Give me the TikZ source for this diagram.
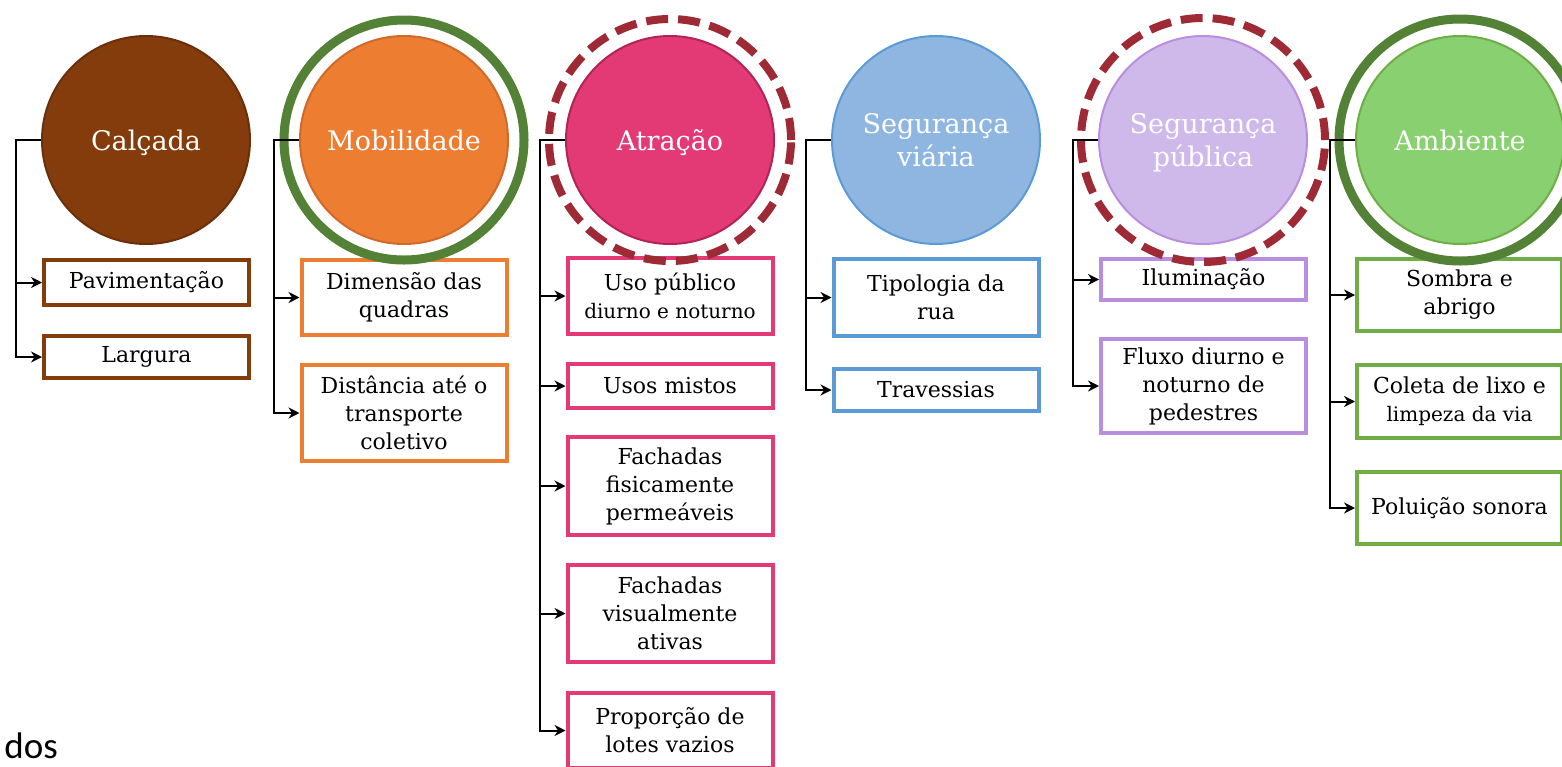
\documentclass[tikz,border=0pt]{standalone}
\usepackage{fontspec}
\setmainfont{DejaVu Serif}
\newfontfamily\dosfont{Carlito}
\usetikzlibrary{arrows.meta}
\definecolor{calcfill}{HTML}{843C0C}
\definecolor{calcline}{HTML}{6A300C}
\definecolor{mobfill}{HTML}{ED7D31}
\definecolor{mobline}{HTML}{D0692A}
\definecolor{atrfill}{HTML}{E33A75}
\definecolor{atrline}{HTML}{B02556}
\definecolor{segvfill}{HTML}{8EB6E0}
\definecolor{segvline}{HTML}{5B9BD5}
\definecolor{segpfill}{HTML}{CFB9EA}
\definecolor{segpline}{HTML}{B98EDE}
\definecolor{ambfill}{HTML}{88D070}
\definecolor{ambline}{HTML}{70AD47}
\definecolor{ringgreen}{HTML}{538135}
\definecolor{ringred}{HTML}{9E2A36}
\begin{document}
\begin{tikzpicture}[x=0.5pt,y=-0.5pt,>={Stealth[length=5.5pt,width=5.5pt]},
topic/.style 2 args={circle,fill=#1,draw=#2,line width=1pt,minimum size=104pt,inner sep=0pt,align=center,text=white,text depth=0pt,font=\fontsize{13.5}{16.5}\selectfont},
item/.style={draw=#1,line width=2pt,fill=white,minimum width=102.5pt,inner sep=1pt,align=center,font=\fontsize{11}{14}\selectfont},
greenring/.style={draw=ringgreen,line width=4.5pt},
redring/.style={draw=ringred,line width=4pt,dash pattern=on 11pt off 5pt},
link/.style={line width=1pt}]
\useasboundingbox (0,0) rectangle (1562,766);
\clip (0,0) rectangle (1562,766);
% temas
\draw (146,140) node[topic={calcfill}{calcline}] (calc) {Calçada};
\draw (404,140) node[topic={mobfill}{mobline}] (mob) {Mobilidade};
\draw (670,140) node[topic={atrfill}{atrline}] (atr) {Atração};
\draw (936,140) node[topic={segvfill}{segvline}] (segv) {Segurança\\viária};
\draw (1203,140) node[topic={segpfill}{segpline}] (segp) {Segurança\\pública};
\draw (1460,140) node[topic={ambfill}{ambline}] (amb) {Ambiente};
% indicadores
\draw (146.5,282.5) node[item=calcfill,minimum height=22.5pt] (pav) {Pavimentação};
\draw (146.5,357) node[item=calcfill,minimum height=21pt] (larg) {Largura};
\draw (404,297.5) node[item=mobfill,minimum height=37.5pt] (quad) {Dimensão das\\quadras};
\draw (404,413) node[item=mobfill,minimum height=48pt] (dist) {Distância até o\\transporte\\coletivo};
\draw (670,296) node[item=atrfill,minimum height=38pt] (uso) {Uso público\\{\fontsize{10}{12}\selectfont diurno e noturno}};
\draw (670,386) node[item=atrfill,minimum height=22pt] (mist) {Usos mistos};
\draw (670,486) node[item=atrfill,minimum height=49pt] (fis) {Fachadas\\fisicamente\\permeáveis};
\draw (670,613.5) node[item=atrfill,minimum height=48.5pt] (vis) {Fachadas\\visualmente\\ativas};
\draw (670,730.5) node[item=atrfill,minimum height=37.5pt] (lot) {Proporção de\\lotes vazios};
\draw (936,297.5) node[item=segvline,minimum height=38.5pt] (tip) {Tipologia da\\rua};
\draw (936,390) node[item=segvline,minimum height=21pt] (trav) {Travessias};
\draw (1203.5,279.5) node[item=segpline,minimum height=20.5pt] (ilum) {Iluminação};
\draw (1203.5,386) node[item=segpline,minimum height=47pt] (flux) {Fluxo diurno e\\noturno de\\pedestres};
\draw (1459.5,295) node[item=ambline,minimum height=36pt] (somb) {Sombra e\\abrigo};
\draw (1459.5,401.5) node[item=ambline,minimum height=36.5pt] (lixo) {Coleta de lixo e\\{\fontsize{10}{12}\selectfont limpeza da via}};
\draw (1459.5,508) node[item=ambline,minimum height=36pt] (pol) {Poluição sonora};
% destaques
\draw[greenring] (mob.center) circle[radius=60pt];
\draw[redring] (atr.center) circle[radius=60.5pt];
\draw[redring] (segp.center) circle[radius=61pt];
\draw[greenring] (amb.center) circle[radius=60.5pt];
% ligacoes
\draw[link,->] (calc.west) -- ++(-25,0) coordinate (v1) |- (larg.west);
\draw[link,->] (v1 |- pav.west) -- (pav.west);
\draw[link,->] (mob.west) -- ++(-25,0) coordinate (v2) |- (dist.west);
\draw[link,->] (v2 |- quad.west) -- (quad.west);
\draw[link,->] (atr.west) -- ++(-25,0) coordinate (v3) |- (lot.west);
\draw[link,->] (v3 |- uso.west) -- (uso.west);
\draw[link,->] (v3 |- mist.west) -- (mist.west);
\draw[link,->] (v3 |- fis.west) -- (fis.west);
\draw[link,->] (v3 |- vis.west) -- (vis.west);
\draw[link,->] (segv.west) -- ++(-25,0) coordinate (v4) |- (trav.west);
\draw[link,->] (v4 |- tip.west) -- (tip.west);
\draw[link,->] (segp.west) -- ++(-25,0) coordinate (v5) |- (flux.west);
\draw[link,->] (v5 |- ilum.west) -- (ilum.west);
\draw[link,->] (amb.west) -- ++(-25,0) coordinate (v6) |- (pol.west);
\draw[link,->] (v6 |- somb.west) -- (somb.west);
\draw[link,->] (v6 |- lixo.west) -- (lixo.west);
\draw (4,758) node[anchor=base west,inner sep=0pt,text depth=0pt,font=\dosfont\fontsize{18.5}{20}\selectfont] (dos) {dos};
\end{tikzpicture}
\end{document}
